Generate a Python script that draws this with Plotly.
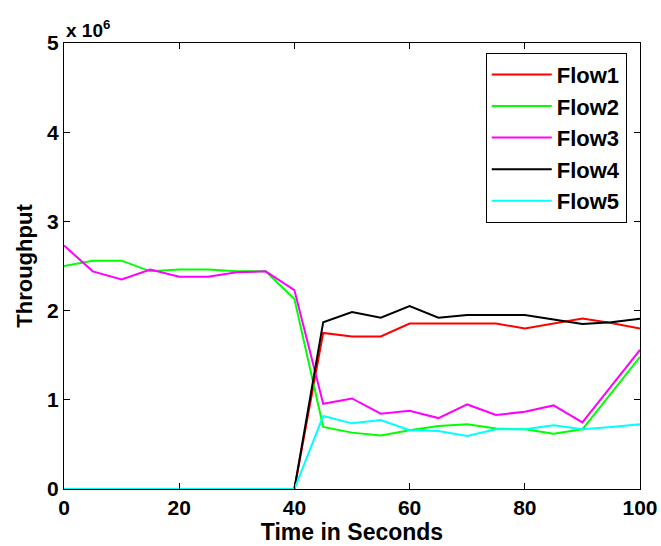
import plotly.graph_objects as go

time = list(range(0, 101, 5))
flow1 = [0, 0, 0, 0, 0, 0, 0, 0, 0, 1.75, 1.71, 1.71, 1.855, 1.855, 1.855, 1.855, 1.80, 1.855, 1.91, 1.86, 1.80]
flow2 = [2.50, 2.56, 2.56, 2.44, 2.46, 2.46, 2.44, 2.44, 2.13, 0.695, 0.632, 0.60, 0.658, 0.706, 0.725, 0.677, 0.669, 0.62, 0.669, 1.08, 1.48]
flow3 = [2.73, 2.44, 2.35, 2.46, 2.38, 2.38, 2.43, 2.44, 2.23, 0.955, 1.015, 0.845, 0.877, 0.795, 0.948, 0.83, 0.866, 0.937, 0.747, 1.16, 1.56]
flow4 = [0, 0, 0, 0, 0, 0, 0, 0, 0, 1.87, 1.985, 1.92, 2.05, 1.92, 1.95, 1.95, 1.95, 1.90, 1.85, 1.87, 1.91]
flow5 = [0, 0, 0, 0, 0, 0, 0, 0, 0, 0.818, 0.736, 0.773, 0.658, 0.65, 0.595, 0.669, 0.669, 0.714, 0.669, 0.695, 0.725]

names = ["Flow1", "Flow2", "Flow3", "Flow4", "Flow5"]
series = [flow1, flow2, flow3, flow4, flow5]
colors = ["#ff0000", "#00ff00", "#ff00ff", "#000000", "#00ffff"]

scale = 1e6
fig = go.Figure()
for n, s, c in zip(names, series, colors):
    fig.add_trace(go.Scatter(x=time, y=[v * scale for v in s], mode="lines", name=n,
                             line=dict(color=c, width=2)))

FAM = "Liberation Sans, Arial"
axis_common = dict(showline=True, linecolor="black", linewidth=1, mirror="ticks",
                   ticks="inside", ticklen=6, tickcolor="black", showgrid=False,
                   zeroline=False, automargin=False,
                   tickfont=dict(family=FAM, size=21, color="black", weight="bold"))

fig.update_layout(
    width=661, height=546,
    margin=dict(l=64, r=21, t=43, b=57),
    plot_bgcolor="white", paper_bgcolor="white",
    font=dict(family=FAM, size=21, color="black"),
    xaxis=dict(range=[0, 100], tickvals=[0, 20, 40, 60, 80, 100],
               title=dict(text="<b>Time in Seconds</b>", standoff=4,
                          font=dict(family=FAM, size=23, color="black")),
               **axis_common),
    yaxis=dict(range=[0, 5 * scale], tickvals=[i * scale for i in range(6)],
               ticktext=[str(i) for i in range(6)],
               title=dict(text="<b>Throughput</b>", standoff=8,
                          font=dict(family=FAM, size=22, color="black")),
               **axis_common),
    legend=dict(x=0.977, y=0.9785, xanchor="right", yanchor="top",
                bordercolor="black", borderwidth=1, bgcolor="white",
                font=dict(family=FAM, size=22, color="black", weight="bold"),
                tracegroupgap=0, itemwidth=60),
    annotations=[dict(text="<b>x 10<sup>6</sup></b>", xref="paper", yref="paper", x=0.0, y=1.0,
                      xanchor="left", yanchor="bottom", showarrow=False,
                      font=dict(family=FAM, size=19, color="black"))],
)

fig.write_html("out.html")
